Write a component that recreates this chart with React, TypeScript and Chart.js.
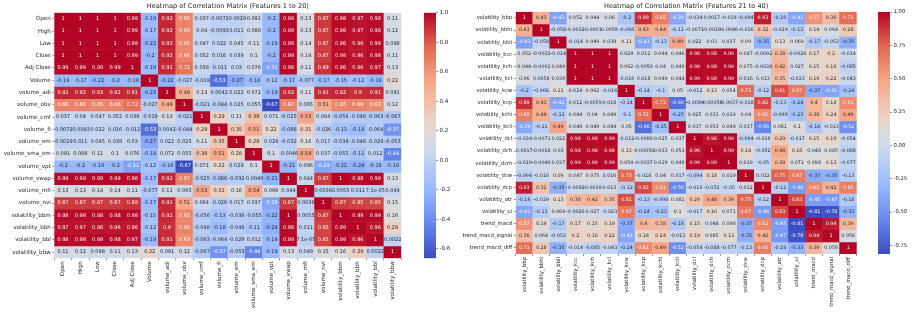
import React, { useEffect, useRef } from "react";
import { Chart, registerables } from "chart.js";

Chart.register(...registerables);

const FONT = "'DejaVu Sans'";

const labelsA = ["Open", "High", "Low", "Close", "Adj Close", "Volume", "volume_adi", "volume_obv", "volume_cmf", "volume_fi", "volume_em", "volume_sma_em", "volume_vpt", "volume_vwap", "volume_mfi", "volume_nvi", "volatility_bbm", "volatility_bbh", "volatility_bbl", "volatility_bbw"];

const a01 = [1, 1, 1, 1, 0.99, -0.19, 0.92, 0.66, 0.037, -0.0072, -0.0029, 0.091, -0.2, 0.99, 0.13, 0.87, 0.98, 0.97, 0.98, 0.11];
const a02 = [1, 1, 1, 1, 0.99, -0.17, 0.92, 0.66, 0.04, -0.0093, 0.011, 0.088, -0.2, 0.99, 0.13, 0.87, 0.98, 0.97, 0.98, 0.12];
const a03 = [1, 1, 1, 1, 0.99, -0.22, 0.93, 0.65, 0.047, 0.022, 0.045, 0.11, -0.19, 0.99, 0.14, 0.87, 0.98, 0.96, 0.99, 0.098];
const a04 = [1, 1, 1, 1, 0.99, -0.2, 0.92, 0.66, 0.052, 0.016, 0.039, 0.1, -0.2, 0.99, 0.14, 0.87, 0.98, 0.96, 0.98, 0.11];
const a05 = [0.99, 0.99, 0.99, 0.99, 1, -0.18, 0.91, 0.72, 0.038, -0.011, 0.03, 0.076, -0.31, 0.98, 0.11, 0.89, 0.98, 0.96, 0.97, 0.13];
const a06 = [-0.19, -0.17, -0.22, -0.2, -0.18, 1, -0.22, -0.027, -0.019, -0.53, -0.27, -0.18, -0.12, -0.17, -0.077, -0.17, -0.15, -0.12, -0.19, 0.22];
const a07 = [0.92, 0.92, 0.93, 0.92, 0.91, -0.22, 1, 0.49, 0.13, 0.0042, 0.022, 0.072, -0.19, 0.92, 0.11, 0.91, 0.92, 0.9, 0.91, 0.091];
const a08 = [0.66, 0.66, 0.65, 0.66, 0.72, -0.027, 0.49, 1, -0.021, -0.044, 0.025, 0.055, -0.67, 0.67, 0.065, 0.51, 0.65, 0.66, 0.63, 0.12];
const a09 = [0.037, 0.04, 0.047, 0.052, 0.038, -0.019, 0.13, -0.021, 1, 0.29, 0.11, 0.38, 0.071, -0.025, 0.53, 0.064, -0.056, -0.048, -0.063, -0.067];
const a10 = [-0.0072, -0.0093, 0.022, 0.016, -0.011, -0.53, 0.0042, -0.044, 0.29, 1, 0.35, 0.51, 0.22, -0.086, 0.31, -0.026, -0.13, -0.18, -0.064, -0.37];
const a11 = [-0.0029, 0.011, 0.045, 0.039, 0.03, -0.27, 0.022, 0.025, 0.11, 0.35, 1, 0.28, 0.029, -0.032, 0.16, 0.017, -0.038, -0.048, -0.029, -0.053];
const a12 = [0.091, 0.088, 0.11, 0.1, 0.076, -0.18, 0.072, 0.055, 0.38, 0.51, 0.28, 1, 0.1, -0.0046, 0.54, 0.037, -0.055, -0.11, 0.012, -0.44];
const a13 = [-0.2, -0.2, -0.19, -0.2, -0.31, -0.12, -0.19, -0.67, 0.071, 0.22, 0.029, 0.1, 1, -0.21, 0.096, -0.29, -0.22, -0.24, -0.19, -0.19];
const a14 = [0.99, 0.99, 0.99, 0.99, 0.98, -0.17, 0.92, 0.67, -0.025, -0.086, -0.032, -0.0046, -0.21, 1, 0.044, 0.87, 1, 0.98, 0.99, 0.13];
const a15 = [0.13, 0.13, 0.14, 0.14, 0.11, -0.077, 0.11, 0.065, 0.53, 0.31, 0.16, 0.54, 0.096, 0.044, 1, 0.0036, 0.0055, 0.011, 0.000071, 0.049];
const a16 = [0.87, 0.87, 0.87, 0.87, 0.89, -0.17, 0.91, 0.51, 0.064, -0.026, 0.017, 0.037, -0.29, 0.87, 0.0036, 1, 0.87, 0.85, 0.85, 0.15];
const a17 = [0.98, 0.98, 0.98, 0.98, 0.98, -0.15, 0.92, 0.65, -0.056, -0.13, -0.038, -0.055, -0.22, 1, 0.0055, 0.87, 1, 0.99, 0.99, 0.16];
const a18 = [0.97, 0.97, 0.96, 0.96, 0.96, -0.12, 0.9, 0.66, -0.048, -0.18, -0.048, -0.11, -0.24, 0.98, 0.011, 0.85, 0.99, 1, 0.96, 0.29];
const a19 = [0.98, 0.98, 0.99, 0.98, 0.97, -0.19, 0.91, 0.63, -0.063, -0.064, -0.029, 0.012, -0.19, 0.99, 0.000071, 0.85, 0.99, 0.96, 1, 0.0022];
const a20 = [0.11, 0.12, 0.098, 0.11, 0.13, 0.22, 0.091, 0.12, -0.067, -0.37, -0.053, -0.44, -0.19, 0.13, 0.049, 0.15, 0.16, 0.29, 0.0022, 1];
const rowsA = [a01, a02, a03, a04, a05, a06, a07, a08, a09, a10, a11, a12, a13, a14, a15, a16, a17, a18, a19, a20];

const labelsB = ["volatility_bbp", "volatility_bbhi", "volatility_bbli", "volatility_kcc", "volatility_kch", "volatility_kcl", "volatility_kcw", "volatility_kcp", "volatility_kchi", "volatility_kcli", "volatility_dcl", "volatility_dch", "volatility_dcm", "volatility_dcw", "volatility_dcp", "volatility_atr", "volatility_ui", "trend_macd", "trend_macd_signal", "trend_macd_diff"];

const b01 = [1, 0.43, -0.43, 0.052, 0.044, 0.06, -0.2, 0.89, 0.65, -0.39, -0.034, 0.0017, -0.019, -0.094, 0.93, -0.16, -0.41, 0.57, 0.36, 0.71];
const b02 = [0.43, 1, -0.058, -0.0032, -0.0001, 0.0058, -0.066, 0.43, 0.44, -0.11, -0.0071, -0.0018, -0.0046, -0.016, 0.32, -0.029, -0.13, 0.14, 0.064, 0.28];
const b03 = [-0.43, -0.058, 1, -0.014, 0.049, 0.039, 0.11, -0.41, -0.13, 0.49, 0.022, 0.03, 0.037, 0.09, -0.35, 0.13, 0.069, -0.17, -0.053, -0.35];
const b04 = [0.052, -0.0032, -0.014, 1, 1, 1, 0.024, 0.012, 0.044, 0.046, 0.98, 0.98, 0.99, 0.047, -0.0092, 0.38, -0.0026, 0.17, 0.2, -0.014];
const b05 = [0.044, -0.0001, 0.049, 1, 1, 1, 0.062, -0.0059, 0.04, 0.049, 0.98, 0.98, 0.99, 0.075, -0.0038, 0.42, 0.027, 0.15, 0.18, -0.085];
const b06 = [0.06, 0.0058, 0.039, 1, 1, 1, -0.016, 0.018, 0.049, 0.044, 0.99, 0.98, 0.99, 0.016, 0.013, 0.35, -0.023, 0.19, 0.22, -0.043];
const b07 = [-0.2, -0.066, 0.11, 0.024, 0.062, -0.016, 1, -0.14, -0.1, 0.05, -0.012, 0.13, 0.054, 0.73, -0.12, 0.81, 0.67, -0.37, -0.41, -0.24];
const b08 = [0.89, 0.43, -0.41, 0.012, -0.0059, 0.018, -0.14, 1, 0.72, -0.66, -0.0089, -0.00056, -0.0037, -0.018, 0.82, -0.13, -0.24, 0.4, 0.18, 0.61];
const b09 = [0.65, 0.44, -0.13, 0.044, 0.04, 0.049, -0.1, 0.72, 1, -0.25, 0.025, 0.033, 0.019, 0.04, 0.61, -0.098, -0.23, 0.38, 0.24, 0.49];
const b10 = [-0.39, -0.11, 0.49, 0.046, 0.049, 0.044, 0.05, -0.66, -0.25, 1, 0.037, 0.053, 0.049, 0.017, -0.56, 0.081, 0.1, -0.18, -0.013, -0.52];
const b11 = [-0.034, -0.0071, 0.022, 0.98, 0.98, 0.99, -0.012, -0.0089, 0.025, 0.037, 1, 0.96, 0.99, -0.094, -0.016, 0.29, -0.017, 0.15, 0.19, -0.054];
const b12 = [0.0017, -0.0018, 0.03, 0.98, 0.98, 0.98, 0.13, -0.00056, 0.033, 0.053, 0.96, 1, 0.99, 0.18, -0.052, 0.48, 0.16, 0.048, 0.085, -0.088];
const b13 = [-0.019, -0.0046, 0.037, 0.99, 0.99, 0.99, 0.054, -0.0037, 0.019, 0.049, 0.99, 0.99, 1, 0.019, -0.05, 0.39, 0.071, 0.098, 0.13, -0.077];
const b14 = [-0.094, -0.016, 0.09, 0.047, 0.075, 0.016, 0.73, -0.018, 0.04, 0.017, -0.094, 0.18, 0.019, 1, 0.012, 0.75, 0.67, -0.37, -0.35, -0.13];
const b15 = [0.93, 0.32, -0.35, -0.0092, -0.0038, 0.013, -0.12, 0.82, 0.61, -0.56, -0.016, -0.052, -0.05, 0.012, 1, -0.12, -0.46, 0.62, 0.42, 0.65];
const b16 = [-0.16, -0.029, 0.13, 0.38, 0.42, 0.35, 0.81, -0.13, -0.098, 0.081, 0.29, 0.48, 0.39, 0.75, -0.12, 1, 0.83, -0.45, -0.47, -0.18];
const b17 = [-0.41, -0.13, 0.069, -0.0026, 0.027, -0.023, 0.67, -0.24, -0.23, 0.1, -0.017, 0.16, 0.071, 0.67, -0.46, 0.83, 1, -0.81, -0.78, -0.33];
const b18 = [0.57, 0.14, -0.17, 0.17, 0.15, 0.19, -0.37, 0.4, 0.38, -0.18, 0.15, 0.048, 0.098, -0.37, 0.62, -0.45, -0.81, 1, 0.94, 0.39];
const b19 = [0.36, 0.064, -0.053, 0.2, 0.18, 0.22, -0.41, 0.18, 0.24, -0.013, 0.19, 0.085, 0.13, -0.35, 0.42, -0.47, -0.78, 0.94, 1, 0.056];
const b20 = [0.71, 0.28, -0.35, -0.014, -0.085, -0.043, -0.24, 0.61, 0.49, -0.52, -0.054, -0.088, -0.077, -0.13, 0.65, -0.18, -0.33, 0.39, 0.056, 1];
const rowsB = [b01, b02, b03, b04, b05, b06, b07, b08, b09, b10, b11, b12, b13, b14, b15, b16, b17, b18, b19, b20];

const titleA = "Heatmap of Correlation Matrix (Features 1 to 20)";
const titleB = "Heatmap of Correlation Matrix (Features 21 to 40)";
const rangeA: [number, number] = [-0.665, 1];
const rangeB: [number, number] = [-0.815, 1];
const barTicksA = [1, 0.8, 0.6, 0.4, 0.2, 0, -0.2, -0.4, -0.6];
const barTicksB = [1, 0.75, 0.5, 0.25, 0, -0.25, -0.5, -0.75];

const COOLWARM: [number, number[]][] = [
  [0, [59, 76, 192]], [0.143, [103, 136, 238]], [0.286, [154, 187, 255]], [0.429, [201, 215, 240]],
  [0.5, [221, 220, 220]], [0.571, [237, 209, 194]], [0.714, [247, 168, 137]], [0.857, [226, 105, 82]], [1, [180, 4, 38]],
];

function cmap(t: number): number[] {
  const x = Math.max(0, Math.min(1, t));
  for (let i = 1; i < COOLWARM.length; i++) {
    const [p0, c0] = COOLWARM[i - 1];
    const [p1, c1] = COOLWARM[i];
    if (x <= p1) {
      const f = (x - p0) / (p1 - p0);
      return c0.map((c, k) => Math.round(c + (c1[k] - c) * f));
    }
  }
  return COOLWARM[COOLWARM.length - 1][1];
}

function fmt(v: number): string {
  if (v !== 0 && Math.abs(v) < 1e-4) {
    return v.toExponential(1).replace(/e-(\d)$/, "e-0$1");
  }
  return String(Number(v.toPrecision(2)));
}

function textColor(rgb: number[]): string {
  const lin = rgb.map((c) => {
    const s = c / 255;
    return s <= 0.03928 ? s / 12.92 : Math.pow((s + 0.055) / 1.055, 2.4);
  });
  const lum = 0.2126 * lin[0] + 0.7152 * lin[1] + 0.0722 * lin[2];
  return lum < 0.408 ? "#ffffff" : "#262626";
}

const cellText = {
  id: "cellText",
  afterDatasetsDraw(chart: any) {
    const c = chart.ctx;
    c.save();
    c.font = `${chart.options.plugins.cellText.size}px ${FONT}`;
    c.textAlign = "center";
    c.textBaseline = "middle";
    chart.data.datasets.forEach((ds: any, i: number) => {
      chart.getDatasetMeta(i).data.forEach((bar: any, j: number) => {
        const p = bar.getCenterPoint();
        c.fillStyle = ds.textColors[j];
        c.fillText(fmt(ds.values[j]), p.x, p.y);
      });
    });
    c.restore();
  },
};

function heatmap(cv: HTMLCanvasElement, labels: string[], rows: number[][], range: [number, number], title: string, g: any) {
  const [lo, hi] = range;
  const datasets = rows.map((row, i) => {
    const colors = row.map((v) => cmap((v - lo) / (hi - lo)));
    return {
      label: labels[i],
      values: row,
      textColors: colors.map(textColor),
      data: row.map(() => [i - 0.5, i + 0.5]),
      backgroundColor: colors.map((c) => `rgb(${c[0]},${c[1]},${c[2]})`),
      borderWidth: 0,
      grouped: false,
      barPercentage: 1,
      categoryPercentage: 1,
    };
  });
  return new Chart(cv, {
    type: "bar",
    data: { labels, datasets } as any,
    plugins: [cellText],
    options: {
      animation: false,
      responsive: false,
      layout: { padding: { left: 0, right: g.right, top: 0, bottom: 0 } },
      plugins: {
        cellText: { size: g.cellSize },
        legend: { display: false },
        tooltip: { enabled: false },
        title: {
          display: true,
          fullSize: false,
          text: title,
          color: "#262626",
          font: { family: FONT, size: g.titleSize, weight: "normal", lineHeight: 1.2 },
          padding: { top: g.titleTop, bottom: g.titleBottom },
        },
      },
      scales: {
        x: {
          type: "category",
          afterFit: (s: any) => { s.height = g.bottom; },
          grid: { drawOnChartArea: false, drawTicks: true, tickLength: 2, color: "#333", lineWidth: 0.5 },
          border: { display: false },
          ticks: { autoSkip: false, maxRotation: 90, minRotation: 90, padding: 1, color: "#262626", font: { family: FONT, size: g.tickSize } },
        },
        y: {
          type: "linear",
          reverse: true,
          min: -0.5,
          max: rows.length - 0.5,
          afterBuildTicks: (s: any) => { s.ticks = labels.map((_, i) => ({ value: i })); },
          afterFit: (s: any) => { s.width = g.left; },
          grid: { drawOnChartArea: false, drawTicks: true, tickLength: 2, color: "#333", lineWidth: 0.5 },
          border: { display: false },
          ticks: { autoSkip: false, padding: 1.5, color: "#262626", font: { family: FONT, size: g.tickSize }, callback: (v: any) => labels[v] },
        },
      },
    } as any,
  });
}

function colorbar(cv: HTMLCanvasElement, range: [number, number], ticks: number[], digits: number, g: any) {
  return new Chart(cv, {
    type: "bar",
    data: {
      labels: ["r"],
      datasets: [{
        data: [range],
        borderWidth: 0,
        barPercentage: 1,
        categoryPercentage: 1,
        backgroundColor: (ctx: any) => {
          const area = ctx.chart.chartArea;
          if (!area) return "#ddd";
          const grad = ctx.chart.ctx.createLinearGradient(0, area.bottom, 0, area.top);
          COOLWARM.forEach(([p, c]) => grad.addColorStop(p, `rgb(${c[0]},${c[1]},${c[2]})`));
          return grad;
        },
      }],
    } as any,
    options: {
      animation: false,
      responsive: false,
      layout: { padding: { left: 0, right: 0, top: g.top, bottom: g.bottom } },
      plugins: { legend: { display: false }, tooltip: { enabled: false }, title: { display: false } },
      scales: {
        x: { display: false },
        y: {
          type: "linear",
          position: "right",
          min: range[0],
          max: range[1],
          afterBuildTicks: (s: any) => { s.ticks = ticks.map((value) => ({ value })); },
          afterFit: (s: any) => { s.width = g.axis; },
          grid: { drawOnChartArea: false, drawTicks: true, tickLength: 2, color: "#333", lineWidth: 0.5 },
          border: { display: false },
          ticks: { autoSkip: false, padding: 1.5, color: "#262626", font: { family: FONT, size: g.tickSize }, callback: (v: any) => Number(v).toFixed(digits) },
        },
      },
    } as any,
  });
}

export default function App() {
  const a = useRef<HTMLCanvasElement>(null);
  const b = useRef<HTMLCanvasElement>(null);
  const ca = useRef<HTMLCanvasElement>(null);
  const cb = useRef<HTMLCanvasElement>(null);

  useEffect(() => {
    const charts = [
      heatmap(a.current!, labelsA, rowsA, rangeA, titleA, { left: 54.3, right: 54.7, bottom: 54.7, titleSize: 6.65, titleTop: 2.6, titleBottom: 2.1, tickSize: 5.6, cellSize: 5 }),
      heatmap(b.current!, labelsB, rowsB, rangeB, titleB, { left: 57.7, right: 57.3, bottom: 59, titleSize: 6.55, titleTop: 2.2, titleBottom: 1.8, tickSize: 5.3, cellSize: 4.8 }),
      colorbar(ca.current!, rangeA, barTicksA, 1, { top: 12.7, bottom: 54.7, axis: 20, tickSize: 5.6 }),
      colorbar(cb.current!, rangeB, barTicksB, 2, { top: 12, bottom: 59, axis: 22, tickSize: 5.3 }),
    ];
    return () => charts.forEach((c) => c.destroy());
  }, []);

  const abs = (left: number, width: number): React.CSSProperties => ({ position: "absolute", left, top: 0, width, height: 313 });

  return (
    <div style={{ position: "absolute", left: 0, top: 0, width: 914, height: 313, background: "#fff", overflow: "hidden", filter: "blur(0.45px)" }}>
      <canvas ref={a} width={456} height={313} style={abs(0, 456)} />
      <canvas ref={b} width={456} height={313} style={abs(458, 456)} />
      <canvas ref={ca} width={32} height={313} style={abs(424, 32)} />
      <canvas ref={cb} width={34} height={313} style={abs(878, 34)} />
    </div>
  );
}
